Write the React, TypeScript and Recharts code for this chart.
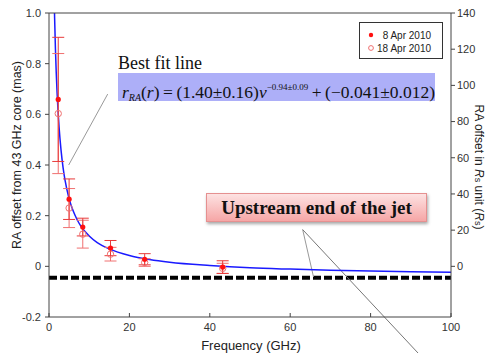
import React from 'react';
import {
  ComposedChart,
  Line,
  Scatter,
  ErrorBar,
  XAxis,
  YAxis,
  ReferenceLine,
  Legend,
} from 'recharts';

// observing frequencies (GHz)
const freqs = [2.3, 5.0, 8.4, 15.3, 23.8, 43.2];

// 8 Apr 2010
const offsetApr8 = [0.659, 0.265, 0.155, 0.072, 0.028, -0.003];
const errApr8 = [0.245, 0.08, 0.035, 0.03, 0.022, 0.025];

// 18 Apr 2010
const offsetApr18 = [0.603, 0.23, 0.127, 0.048, 0.015, -0.008];
const errApr18 = [0.237, 0.077, 0.055, 0.027, 0.015, 0.02];

// best fit curve
const fitFreq = [1.35, 1.4, 1.6, 1.8, 2, 2.5, 3, 3.5, 4, 5, 6, 7, 8, 10, 12, 15, 20, 25, 30, 40, 50, 60, 70, 80, 90, 100];
const fitOffset = [1.015, 0.979, 0.859, 0.765, 0.689, 0.551, 0.458, 0.39, 0.339, 0.267, 0.219, 0.184, 0.157, 0.12, 0.094, 0.069, 0.043, 0.027, 0.016, 0.003, -0.006, -0.011, -0.015, -0.018, -0.021, -0.023];

const upstreamLevel = -0.045;

// 1 mas corresponds to 140 Rs
const rsPerMas = 140;

const xTicks = [0, 20, 40, 60, 80, 100];
const leftTicks = [-0.2, 0, 0.2, 0.4, 0.6, 0.8, 1.0];
const rightTicks = [0, 20, 40, 60, 80, 100, 120, 140];

const apr8 = freqs.map((x, i) => ({ x, y: offsetApr8[i], err: errApr8[i] }));
const apr18 = freqs.map((x, i) => ({ x, y: offsetApr18[i], err: errApr18[i] }));
const apr8Rs = freqs.map((x, i) => ({ x, y: offsetApr8[i] * rsPerMas }));
const fit = fitFreq.map((x, i) => ({ x, y: fitOffset[i] }));

const axisColor = '#444';
const sans = 'Liberation Sans, Arial, sans-serif';
const serif = 'Liberation Serif, Times New Roman, serif';
const tickStyle = { fontSize: 11, fill: '#333', fontFamily: sans };

const FilledDot = (props: any) => <circle cx={props.cx} cy={props.cy} r={2.6} fill="#ff1010" />;
const OpenDot = (props: any) => (
  <circle cx={props.cx} cy={props.cy} r={3.2} fill="none" stroke="#f07070" strokeWidth={1} />
);
const NoDot = () => <g />;

const LegendBox = () => (
  <div
    style={{
      border: '1px solid #333',
      background: '#fff',
      width: 82,
      height: 35,
      fontSize: 10,
      color: '#222',
      fontFamily: sans,
      position: 'relative',
    }}
  >
    <svg width={10} height={30} style={{ position: 'absolute', left: 6, top: 5 }}>
      <circle cx={5} cy={7} r={2.2} fill="#ff1010" />
      <circle cx={5} cy={20} r={2.4} fill="none" stroke="#f07070" />
    </svg>
    <div style={{ position: 'absolute', right: 11, top: 6, textAlign: 'right', lineHeight: '13px' }}>
      <div>8 Apr 2010</div>
      <div>18 Apr 2010</div>
    </div>
  </div>
);

export default function App() {
  return (
    <div style={{ position: 'absolute', left: 0, top: 0, width: 486, height: 353, background: '#fff' }}>
      <ComposedChart width={486} height={353} margin={{ top: 12, right: 0, bottom: 0, left: 0 }}>
        <XAxis
          xAxisId="bottom"
          dataKey="x"
          type="number"
          domain={[0, 100]}
          ticks={xTicks}
          allowDataOverflow
          height={36}
          stroke={axisColor}
          tick={tickStyle}
          tickSize={-4}
          tickMargin={10}
        />
        <XAxis
          xAxisId="top"
          orientation="top"
          dataKey="x"
          type="number"
          domain={[0, 100]}
          ticks={xTicks}
          height={1}
          stroke={axisColor}
          tickSize={-4}
          tickFormatter={() => ''}
        />
        <YAxis
          yAxisId="left"
          type="number"
          domain={[-0.2, 1]}
          ticks={leftTicks}
          allowDataOverflow
          width={49}
          stroke={axisColor}
          tick={tickStyle}
          tickSize={4}
          tickMargin={4}
          tickFormatter={(v: number) => (v === 0 ? '0' : v.toFixed(1))}
        />
        <YAxis
          yAxisId="right"
          orientation="right"
          type="number"
          domain={[-28, 140]}
          ticks={rightTicks}
          allowDataOverflow
          width={35}
          stroke={axisColor}
          tick={tickStyle}
          tickSize={4}
          tickMargin={2}
        />
        <Legend
          layout="horizontal"
          verticalAlign="middle"
          content={() => <LegendBox />}
          wrapperStyle={{ left: 359, top: 22, width: 84 }}
        />
        <ReferenceLine
          xAxisId="bottom"
          yAxisId="left"
          y={upstreamLevel}
          stroke="#000"
          strokeWidth={4}
          strokeDasharray="8 3"
        />
        <ReferenceLine
          xAxisId="bottom"
          yAxisId="left"
          segment={[{ x: 14.6, y: 0.68 }, { x: 4.9, y: 0.4 }]}
          stroke="#999"
          strokeWidth={1}
          ifOverflow="visible"
        />
        <ReferenceLine
          xAxisId="bottom"
          yAxisId="left"
          segment={[{ x: 63.1, y: 0.145 }, { x: 65.8, y: -0.042 }]}
          stroke="#999"
          strokeWidth={1}
          ifOverflow="visible"
        />
        <ReferenceLine
          xAxisId="bottom"
          yAxisId="left"
          segment={[{ x: 63.1, y: 0.145 }, { x: 91.9, y: -0.344 }]}
          stroke="#777"
          strokeWidth={1}
          ifOverflow="visible"
        />
        {/* same points in Rs units, invisible: keeps the right axis alive */}
        <Scatter
          xAxisId="bottom"
          yAxisId="right"
          data={apr8Rs}
          dataKey="y"
          shape={NoDot}
          legendType="none"
          isAnimationActive={false}
        />
        <Line
          xAxisId="bottom"
          yAxisId="left"
          data={fit}
          dataKey="y"
          type="monotone"
          stroke="#1a1aff"
          strokeWidth={1.5}
          dot={false}
          activeDot={false}
          isAnimationActive={false}
          legendType="none"
        />
        <Scatter
          xAxisId="bottom"
          yAxisId="left"
          name="18 Apr 2010"
          data={apr18}
          dataKey="y"
          shape={OpenDot}
          isAnimationActive={false}
        >
          <ErrorBar dataKey="err" direction="y" width={6} stroke="#f07070" strokeWidth={1} />
        </Scatter>
        <Scatter
          xAxisId="bottom"
          yAxisId="left"
          name="8 Apr 2010"
          data={apr8}
          dataKey="y"
          shape={FilledDot}
          isAnimationActive={false}
        >
          <ErrorBar dataKey="err" direction="y" width={6} stroke="#e83a3a" strokeWidth={1} />
        </Scatter>
      </ComposedChart>

      {/* axis titles */}
      <div
        style={{
          position: 'absolute',
          left: 17,
          top: 155,
          transform: 'translate(-50%, -50%) rotate(-90deg)',
          whiteSpace: 'nowrap',
          fontSize: 12.5,
          color: '#222',
          fontFamily: sans,
        }}
      >
        RA offset from 43 GHz core (mas)
      </div>
      <div
        style={{
          position: 'absolute',
          left: 478,
          top: 167,
          transform: 'translate(-50%, -50%) rotate(90deg)',
          whiteSpace: 'nowrap',
          fontSize: 12,
          lineHeight: '13px',
          color: '#222',
          fontFamily: sans,
        }}
      >
        RA offset in <i>R</i>
        <span style={{ fontSize: 9 }}>s</span> unit (<i>R</i>
        <span style={{ fontSize: 9 }}>s</span>)
      </div>
      <div
        style={{
          position: 'absolute',
          left: 251,
          top: 345,
          transform: 'translate(-50%, -50%)',
          whiteSpace: 'nowrap',
          fontSize: 13,
          color: '#222',
          fontFamily: sans,
        }}
      >
        Frequency (GHz)
      </div>

      {/* annotations */}
      <div
        style={{
          position: 'absolute',
          left: 118,
          top: 53,
          fontSize: 18,
          color: '#111',
          fontFamily: serif,
          whiteSpace: 'nowrap',
        }}
      >
        Best fit line
      </div>
      <div
        style={{
          position: 'absolute',
          left: 118,
          top: 73,
          width: 317,
          height: 28,
          background: '#adaff8',
          fontSize: 17.5,
          lineHeight: '28px',
          color: '#111',
          fontFamily: serif,
          whiteSpace: 'nowrap',
          paddingLeft: 4,
          boxSizing: 'border-box',
        }}
      >
        <i>r</i>
        <sub style={{ fontSize: 10, fontStyle: 'italic', verticalAlign: '-3px' }}>RA</sub>(<i>r</i>)
        {'\u2009=\u2009'}(1.40±0.16)<i>ν</i>
        <sup style={{ fontSize: 9, verticalAlign: '8px' }}>−0.94±0.09</sup>
        {'\u2009+\u2009'}(−0.041±0.012)
      </div>
      <div
        style={{
          position: 'absolute',
          left: 206,
          top: 193,
          width: 221,
          height: 29,
          background: 'linear-gradient(#fde2e2, #f6a6a6)',
          border: '1px solid #e59090',
          boxShadow: '1px 2px 3px rgba(0,0,0,0.35)',
          boxSizing: 'border-box',
          fontSize: 19,
          fontWeight: 'bold',
          lineHeight: '27px',
          textAlign: 'center',
          color: '#111',
          fontFamily: serif,
          whiteSpace: 'nowrap',
        }}
      >
        Upstream end of the jet
      </div>
    </div>
  );
}
